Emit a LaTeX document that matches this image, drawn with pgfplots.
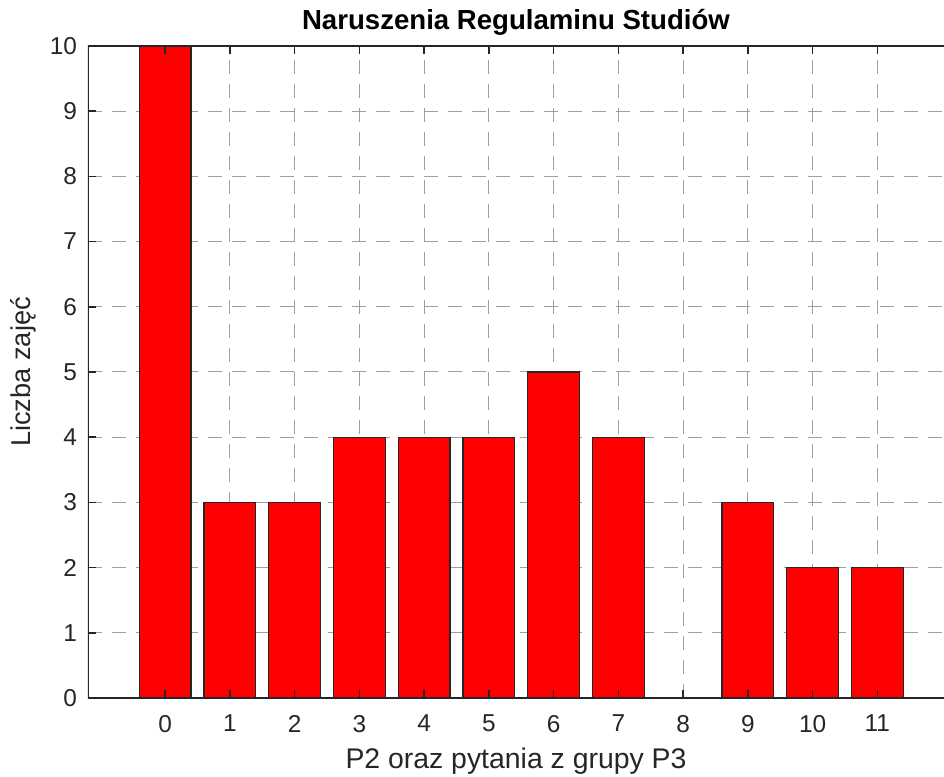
\documentclass[border=0pt]{standalone}
\usepackage{fontspec}
\setmainfont{Liberation Sans}
\usepackage{pgfplots}
\pgfplotsset{compat=1.18}
\usetikzlibrary{calc}
\definecolor{tickc}{RGB}{38,38,38}
\begin{document}
\begin{tikzpicture}
\pgfplotsset{common/.style={scale only axis, width=428pt, height=326pt,
 xmin=-1.19, xmax=12.03, ymin=0, ymax=10,
 xtick={0,...,11}, ytick={0,...,10}}}
\begin{axis}[common, name=ax, axis line style={draw=none},
 major tick length=0pt, xticklabels={}, yticklabels={},
 grid=major, major grid style={gray!75, line width=0.5pt, dash pattern=on 7pt off 5pt}]
\addplot[ybar, bar width=0.8, fill=red, draw=black!85, line width=0.6pt] coordinates {(0,10)(1,3)(2,3)(3,4)(4,4)(5,4)(6,5)(7,4)(8,0)(9,3)(10,2)(11,2)};
\end{axis}
\begin{axis}[common, axis line style={draw=none},
 tick align=inside, major tick length=4pt, xtick pos=both, ytick pos=left,
 tick style={tickc, line width=0.8pt},
 /pgf/number format/assume math mode=true,
 ticklabel style={font=\fontsize{12.2}{14}\selectfont, text=tickc},
 xticklabel style={yshift=-5pt},
 yticklabel style={xshift=-2pt},
 title={\textbf{Naruszenia Regulaminu Studiów}},
 title style={font=\fontsize{13.8}{16}\selectfont, yshift=-4pt},
 xlabel={P2 oraz pytania z grupy P3}, ylabel={Liczba zajęć},
 xlabel style={font=\fontsize{14.2}{16}\selectfont, text=tickc, yshift=-1pt},
 ylabel style={font=\fontsize{13.6}{16}\selectfont, text=tickc}]
\draw[tickc, line width=0.8pt] (rel axis cs:1,0) -- (rel axis cs:0,0) -- (rel axis cs:0,1) -- (rel axis cs:1,1);
\end{axis}
\pgfresetboundingbox
\path ($(ax.south west)+(-44pt,-39pt)$) rectangle ($(ax.north east)+(0,23pt)$);
\end{tikzpicture}
\end{document}
